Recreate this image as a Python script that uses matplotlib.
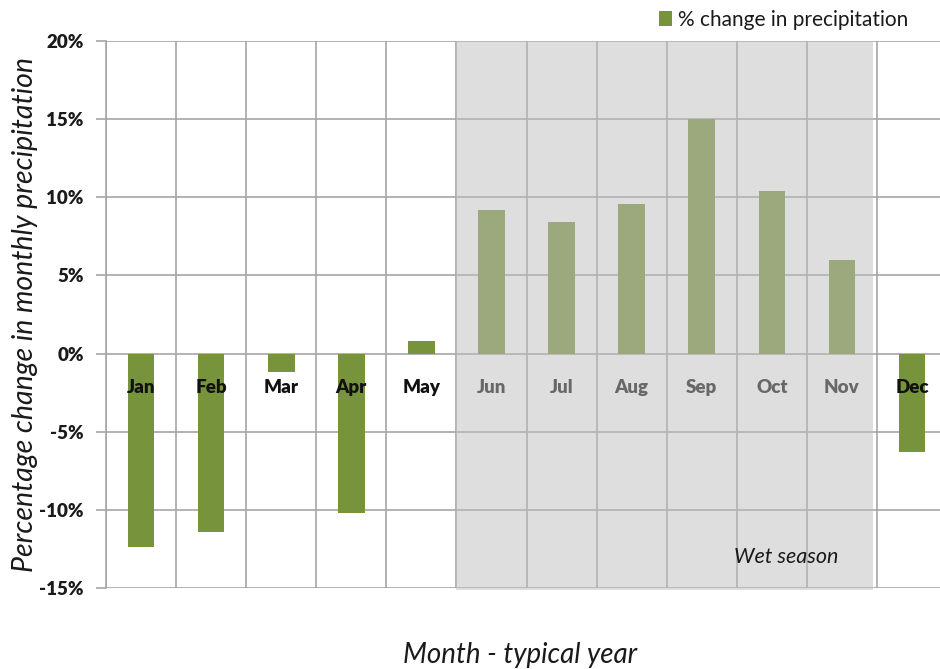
import matplotlib
matplotlib.use("Agg")
import matplotlib.pyplot as plt
from matplotlib.patches import Rectangle, Patch

months = ["Jan", "Feb", "Mar", "Apr", "May", "Jun",
          "Jul", "Aug", "Sep", "Oct", "Nov", "Dec"]
change_pct = [-12.4, -11.4, -1.2, -10.2, 0.8, 9.2,
              8.4, 9.6, 15.0, 10.4, 6.0, -6.3]
y_ticks = [-15, -10, -5, 0, 5, 10, 15, 20]
wet_months = ["Jun", "Jul", "Aug", "Sep", "Oct", "Nov"]

FONT = ["Lato", "DejaVu Sans"]
plt.rcParams["font.family"] = FONT

bar_color = "#77933C"
grid_color = "#A6A6A6"
text_color = "#1a1a1a"

W, H = 940, 669
fig = plt.figure(figsize=(W / 100, H / 100), dpi=100)
ax = fig.add_axes([0.1128, 0.1211, 0.8947, 0.8176])

x = list(range(len(months)))
ax.bar(x, change_pct, width=0.38, color=bar_color, zorder=3)

ax.set_xlim(-0.5, len(months) - 0.5)
ax.set_ylim(y_ticks[0], y_ticks[-1])

# grid: horizontal at each tick, vertical at category boundaries
ax.set_yticks(y_ticks)
ax.set_yticklabels([f"{v}%" for v in y_ticks], fontsize=13.5, fontweight="heavy",
                   color=text_color)
ax.set_xticks([i - 0.5 for i in range(len(months) + 1)])
ax.set_xticklabels([])
ax.tick_params(axis="x", length=0)
ax.tick_params(axis="y", length=7, width=1.2, color=grid_color, pad=9)
ax.grid(True, color=grid_color, linewidth=1.2, zorder=0)
ax.set_axisbelow(True)
for side in ["top", "right", "bottom"]:
    ax.spines[side].set_visible(False)
ax.spines["left"].set_color(grid_color)
ax.spines["left"].set_linewidth(1.2)

# month names just below the zero line
for i, m in enumerate(months):
    ax.text(i, -2.2, m, ha="center", va="center", fontsize=13.5,
            fontweight="heavy", color="#111111", zorder=4)

# translucent wet-season band laid over bars and labels
i0 = months.index(wet_months[0])
i1 = months.index(wet_months[-1])
band = Rectangle((i0 - 0.5, -15.15), (i1 - i0) + 0.94, 35.15,
                 facecolor="#BFBFBF", alpha=0.5, edgecolor="none",
                 zorder=5, clip_on=False)
ax.add_patch(band)
ax.text(i1 - 0.05, -13.0, "Wet season", ha="right", va="center",
        fontsize=15.5, style="italic", color=text_color, zorder=6)

# axis titles
fig.text(25 / W, 1 - 315 / H, "Percentage change in monthly precipitation",
         rotation=90, ha="center", va="center", fontsize=20.5, style="italic",
         color=text_color)
fig.text(520 / W, 1 - 655 / H, "Month - typical year", ha="center",
         va="center", fontsize=20, style="italic", color=text_color)

handle = Patch(facecolor=bar_color, edgecolor="none")
fig.legend([handle], ["% change in precipitation"], loc="center right",
           bbox_to_anchor=(908 / W, 1 - 20 / H), frameon=False, fontsize=15,
           handlelength=0.6, handleheight=0.75, handletextpad=0.3,
           borderpad=0, borderaxespad=0, labelcolor=text_color)

fig.savefig("out.png", dpi=100)
